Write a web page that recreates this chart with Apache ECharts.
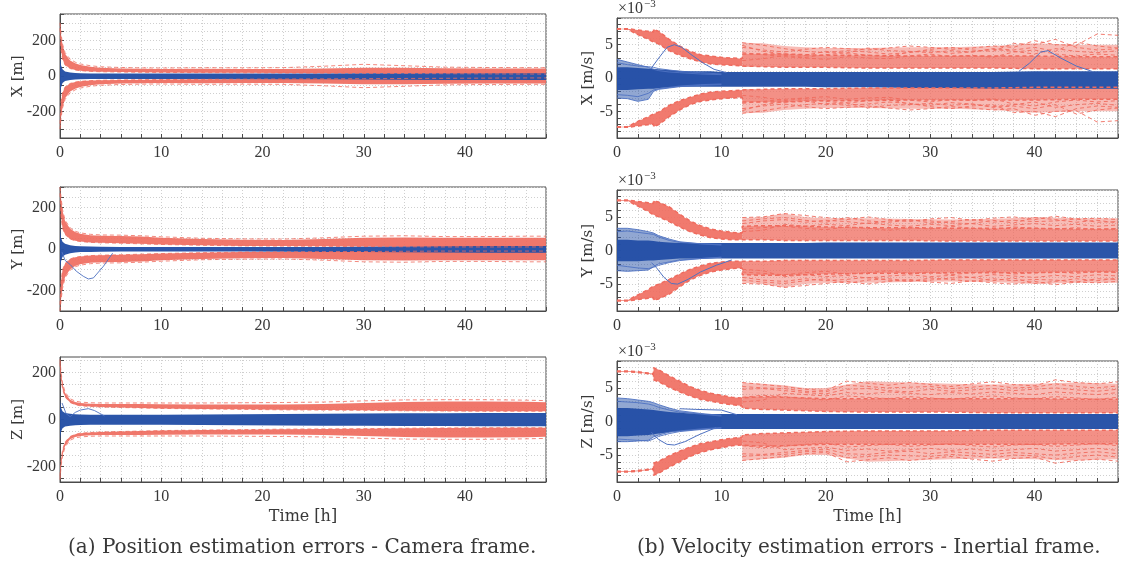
<!DOCTYPE html>
<html>
<head>
<meta charset="utf-8">
<script src="https://cdn.jsdelivr.net/npm/echarts@6/dist/echarts.min.js"></script>
<style>
  html, body { margin: 0; padding: 0; background: #ffffff; }
  #chart { width: 1122px; height: 570px; }
</style>
</head>
<body>
<div id="chart"></div>
<script>
// ---------- Axis ticks and labels ----------
const TIME_GRID = [0, 2, 4, 6, 8, 10, 12, 14, 16, 18, 20, 22, 24, 26, 28, 30, 32, 34, 36, 38, 40, 42, 44, 46, 48];
const TIME_LABELS = [0, 10, 20, 30, 40];
const POS_X_GRID = [-350, -300, -250, -200, -150, -100, -50, 0, 50, 100, 150, 200, 250, 300, 350];
const POS_Y_GRID = [-300, -250, -200, -150, -100, -50, 0, 50, 100, 150, 200, 250, 300];
const POS_Z_GRID = [-250, -200, -150, -100, -50, 0, 50, 100, 150, 200, 250];
const POS_LABELS = [-200, 0, 200];
const VEL_GRID = [-9, -8, -7, -6, -5, -4, -3, -2, -1, 0, 1, 2, 3, 4, 5, 6, 7, 8, 9];
const VEL_LABELS = [-5, 0, 5];

// ---------- Position errors, camera frame [m] ----------
const T_POS = [0, 0.1, 0.25, 0.5, 1, 1.5, 2, 3, 4, 6, 8, 10, 14, 18, 22, 26, 30, 34, 38, 42, 46, 48];

// 3-sigma envelopes (upper side; the lower side is the negative)
const pxSigOut = [300, 235, 175, 125, 88, 72, 62, 52, 47, 43, 41, 40, 41, 40, 40, 43, 47, 46, 44, 42, 42, 42];
const pxSigIn  = [270, 150, 95, 62, 42, 34, 30, 26, 24, 22, 21, 20, 19, 18, 17, 16, 15, 14, 13, 12, 11, 11];
const pxSigHi  = [300, 240, 180, 132, 95, 78, 68, 58, 52, 48, 46, 45, 47, 46, 47, 55, 66, 58, 50, 48, 47, 47];
const pxErrHi  = [110, 60, 38, 26, 20, 17, 15, 14, 14, 14, 14, 14, 14, 14, 14, 14, 15, 16, 16, 16, 16, 16];
const pxErrLo  = [-115, -65, -40, -28, -22, -20, -18, -17, -17, -17, -17, -17, -17, -18, -18, -19, -20, -21, -22, -22, -22, -22];

const pySigOut = [300, 245, 185, 135, 98, 82, 74, 67, 64, 63, 60, 55, 48, 45, 44, 48, 55, 56, 54, 54, 55, 55];
const pySigIn  = [270, 160, 100, 70, 48, 40, 36, 32, 30, 28, 25, 22, 18, 15, 14, 13, 12, 11, 10, 10, 10, 10];
const pySigHi  = [300, 250, 190, 140, 102, 86, 78, 71, 68, 67, 64, 59, 52, 49, 48, 54, 62, 64, 60, 60, 62, 62];
const pyErrHi  = [100, 55, 35, 25, 18, 15, 13, 12, 11, 10, 10, 10, 10, 10, 10, 10, 11, 12, 13, 14, 14, 14];
const pyErrLo  = [-105, -60, -38, -28, -20, -17, -15, -14, -13, -12, -12, -12, -12, -12, -13, -14, -15, -16, -17, -18, -18, -18];

const pzSigOut = [255, 195, 150, 112, 84, 74, 70, 67, 66, 66, 66, 65, 64, 64, 64, 66, 70, 74, 76, 76, 75, 73];
const pzSigIn  = [240, 175, 130, 95, 72, 63, 58, 55, 53, 51, 49, 47, 45, 43, 41, 40, 39, 37, 36, 35, 35, 35];
const pzSigHi  = [255, 200, 155, 116, 88, 78, 74, 71, 70, 70, 70, 70, 70, 71, 72, 74, 79, 83, 84, 84, 82, 80];
const pzErrHi  = [85, 50, 35, 28, 24, 22, 21, 20, 20, 20, 20, 20, 21, 22, 23, 24, 25, 26, 27, 28, 28, 28];
const pzErrLo  = [-88, -52, -37, -30, -26, -24, -23, -22, -22, -22, -22, -22, -23, -24, -25, -26, -27, -28, -28, -29, -29, -29];

// single runs that leave the main error bundle
const pyRunT = [0.2, 0.5, 1.0, 1.6, 2.3, 2.8, 3.3, 4.3, 5.2];
const pyRunV = [-15, -55, -75, -107, -132, -145, -140, -83, -20];
const pzRunT = [0.2, 0.6, 1.0, 1.5, 2.0, 2.8, 3.4, 4.4];
const pzRunV = [70, 25, 12, 30, 40, 46, 38, 15];

// ---------- Velocity errors, inertial frame [1e-3 m/s] ----------
const T_VEL = [0, 1, 2, 3, 3.5, 3.5, 4, 5, 6, 7, 8, 9, 10, 11, 12, 12, 14, 16, 18, 20, 24, 28, 32, 36, 40, 44, 48];
const T_LATE = [12, 14, 16, 18, 20, 24, 28, 32, 36, 40, 44, 48];
const T_RUN = [12, 14, 16, 18, 20, 22, 24, 26, 28, 30, 32, 34, 36, 38, 40, 42, 44, 46, 48];
const T_FAN = [0, 1, 2, 3, 3.5, 4, 5, 6, 8, 10];

const vxSigOut = [7.4, 7.4, 7.2, 7.0, 6.9, 7.3, 7.0, 5.8, 4.8, 4.0, 3.5, 3.3, 3.1, 3.0, 2.9, 3.6, 3.6, 3.6, 3.5, 3.4, 3.4, 3.3, 3.3, 3.3, 3.3, 3.2, 3.2];
const vxSigIn  = [7.3, 7.3, 6.5, 5.8, 5.4, 5.4, 5.1, 4.1, 3.4, 2.9, 2.4, 2.1, 2.0, 1.9, 1.8, 1.7, 1.7, 1.6, 1.6, 1.6, 1.5, 1.5, 1.5, 1.5, 1.4, 1.4, 1.4];
const vxSigMax = [5.3, 5.2, 4.8, 4.6, 4.5, 4.5, 4.6, 4.6, 4.8, 5.2, 5.0, 5.0];
const vxRunA = [5.3, 4.9, 4.4, 4.0, 3.8, 4.1, 3.9, 3.6, 3.8, 4.3, 4.6, 4.2, 4.0, 5.2, 5.0, 5.8, 4.6, 4.2, 4.4];
const vxRunB = [4.6, 4.2, 3.9, 4.3, 4.6, 4.4, 4.2, 4.5, 4.8, 4.6, 4.3, 4.5, 4.8, 4.6, 5.6, 5.0, 4.9, 6.6, 6.4];
const vxRunC = [3.8, 3.5, 3.2, 3.0, 2.8, 3.2, 3.0, 2.9, 3.3, 3.6, 3.2, 3.4, 3.1, 3.9, 4.2, 3.6, 3.3, 3.6, 3.4];
const vxRunD = [2.6, 2.9, 3.4, 3.1, 3.5, 3.8, 3.4, 3.2, 3.9, 4.1, 3.7, 3.9, 4.3, 4.0, 3.6, 4.4, 4.0, 3.8, 4.1];
const vxRunE = [4.9, 4.0, 3.6, 3.4, 4.0, 3.7, 4.5, 4.1, 4.0, 3.8, 4.1, 3.9, 4.4, 4.2, 4.6, 4.0, 5.4, 4.8, 4.5];
const vxErrHi = [1.6, 1.6, 1.5, 1.4, 1.4, 1.4, 1.3, 1.2, 1.1, 1.0, 1.0, 1.0, 0.9, 0.9, 0.9, 0.9, 0.9, 0.9, 0.9, 0.9, 0.9, 0.9, 0.9, 0.9, 1.0, 1.0, 1.0];
const vxErrLo = [-1.8, -1.8, -1.7, -1.6, -1.6, -1.6, -1.5, -1.4, -1.3, -1.3, -1.3, -1.3, -1.3, -1.3, -1.3, -1.3, -1.3, -1.3, -1.3, -1.4, -1.4, -1.5, -1.5, -1.6, -1.6, -1.6, -1.6];
const vxFan1 = [2.8, 2.4, 2.0, 1.6, 1.3, 1.1, 0.9, 0.8, 0.6, 0.5];
const vxFan2 = [2.3, 2.0, 1.8, 1.7, 1.6, 1.4, 1.2, 1.0, 0.8, 0.6];
const vxFan3 = [-2.5, -2.6, -2.8, -2.3, -1.8, -1.6, -1.4, -1.2, -1.0, -0.9];
const vxFan4 = [-3.0, -3.1, -3.5, -3.2, -2.0, -1.7, -1.5, -1.3, -1.1, -1.0];
const vxRun1T = [3.3, 4.0, 4.8, 5.5, 6.2, 7.2, 8.3, 9.3, 10.5];
const vxRun1V = [1.5, 3.0, 4.6, 5.0, 4.6, 3.4, 2.2, 1.3, 0.8];
const vxRun2T = [38.5, 39.5, 40.6, 41.3, 42.5, 44, 45.5];
const vxRun2V = [1.0, 2.2, 3.9, 4.1, 3.0, 1.8, 1.0];

const vySigOut = [7.5, 7.5, 7.3, 7.1, 7.0, 7.4, 7.2, 6.5, 5.4, 4.4, 3.7, 3.2, 2.9, 2.7, 2.6, 3.6, 3.7, 3.7, 3.6, 3.5, 3.4, 3.4, 3.3, 3.3, 3.3, 3.2, 3.2];
const vySigIn  = [7.4, 7.4, 6.6, 5.8, 5.3, 5.3, 5.0, 4.3, 3.5, 2.8, 2.3, 1.9, 1.7, 1.6, 1.6, 1.6, 1.6, 1.5, 1.5, 1.5, 1.5, 1.5, 1.4, 1.4, 1.4, 1.4, 1.4];
const vySigMax = [4.8, 5.0, 5.5, 5.0, 4.8, 4.8, 4.7, 4.6, 4.7, 5.0, 4.8, 4.8];
const vyRunA = [4.9, 5.0, 5.5, 5.2, 4.9, 4.6, 5.0, 4.6, 4.3, 4.7, 4.9, 4.5, 4.8, 5.0, 4.6, 5.1, 4.7, 4.8, 4.6];
const vyRunB = [4.0, 4.4, 4.6, 4.2, 4.5, 4.3, 4.0, 4.4, 4.6, 4.1, 4.3, 4.6, 4.2, 4.5, 4.3, 4.4, 4.7, 4.2, 4.3];
const vyRunC = [3.2, 3.4, 3.6, 3.3, 3.1, 3.5, 3.3, 3.0, 3.4, 3.2, 3.6, 3.3, 3.1, 3.5, 3.3, 3.2, 3.4, 3.1, 3.3];
const vyRunD = [2.8, 3.0, 3.9, 3.6, 3.9, 3.7, 4.1, 3.8, 3.6, 3.9, 3.7, 4.0, 3.6, 3.8, 4.0, 3.7, 3.9, 3.6, 3.8];
const vyRunE = [4.4, 4.7, 4.9, 4.5, 4.2, 4.9, 4.4, 4.2, 4.5, 4.4, 4.1, 4.0, 4.5, 4.1, 4.9, 4.6, 4.2, 4.5, 4.1];
const vyErrHi = [1.6, 1.6, 1.5, 1.5, 1.4, 1.4, 1.3, 1.2, 1.1, 1.1, 1.1, 1.1, 1.1, 1.1, 1.1, 1.1, 1.1, 1.1, 1.1, 1.2, 1.2, 1.2, 1.2, 1.2, 1.2, 1.2, 1.2];
const vyErrLo = [-1.6, -1.6, -1.6, -1.5, -1.5, -1.5, -1.4, -1.3, -1.2, -1.2, -1.2, -1.2, -1.2, -1.2, -1.2, -1.2, -1.2, -1.2, -1.2, -1.2, -1.2, -1.2, -1.2, -1.2, -1.2, -1.2, -1.2];
const vyFan1 = [3.3, 3.3, 3.1, 2.8, 2.6, 2.2, 1.7, 1.3, 1.0, 0.9];
const vyFan2 = [2.8, 2.9, 2.7, 2.5, 2.4, 2.0, 1.5, 1.2, 1.0, 0.8];
const vyFan3 = [-2.2, -2.4, -2.6, -2.7, -2.5, -2.2, -1.8, -1.5, -1.2, -1.0];
const vyFan4 = [-3.0, -3.1, -3.0, -2.9, -2.4, -2.0, -1.7, -1.4, -1.2, -1.0];
const vyRun1T = [3.3, 3.8, 4.5, 5.2, 5.8, 6.8, 8.0, 9.5, 11.0];
const vyRun1V = [-1.8, -2.6, -4.0, -4.9, -5.0, -4.3, -3.2, -2.2, -1.4];

const vzSigOut = [7.5, 7.5, 7.4, 7.2, 7.1, 8.0, 7.7, 6.8, 6.0, 5.2, 4.6, 4.2, 3.9, 3.6, 3.5, 3.7, 3.7, 3.6, 3.5, 3.4, 3.4, 3.4, 3.4, 3.4, 3.4, 3.3, 3.3];
const vzSigIn  = [7.4, 7.4, 7.3, 7.1, 7.0, 6.2, 5.9, 5.1, 4.4, 3.8, 3.3, 3.0, 2.7, 2.5, 2.3, 2.0, 1.8, 1.7, 1.6, 1.5, 1.4, 1.4, 1.4, 1.3, 1.3, 1.3, 1.3];
const vzSigMax = [5.8, 5.6, 5.4, 5.0, 5.0, 6.0, 5.8, 5.6, 5.5, 5.6, 5.8, 5.6];
const vzRunA = [5.8, 5.5, 5.2, 4.8, 4.6, 6.0, 5.7, 5.4, 5.8, 5.5, 5.2, 5.6, 5.9, 5.5, 5.3, 6.2, 5.8, 5.6, 5.9];
const vzRunB = [4.8, 4.9, 4.6, 4.3, 4.1, 4.8, 4.9, 4.6, 4.4, 4.8, 4.5, 4.7, 4.9, 4.6, 4.8, 5.0, 4.7, 4.5, 4.8];
const vzRunC = [3.6, 3.9, 3.7, 3.4, 3.2, 3.8, 3.6, 3.4, 3.7, 3.5, 3.3, 3.6, 3.8, 3.5, 3.4, 3.7, 3.5, 3.3, 3.6];
const vzRunD = [2.9, 3.2, 4.2, 4.0, 3.8, 4.3, 4.1, 4.4, 4.2, 4.0, 4.3, 4.1, 4.4, 4.2, 4.0, 4.4, 4.2, 4.0, 4.3];
const vzRunE = [5.2, 5.0, 4.9, 4.5, 4.4, 5.4, 5.2, 5.0, 5.1, 5.2, 4.9, 5.1, 5.4, 5.0, 5.1, 5.6, 5.2, 5.0, 5.3];
const vzErrHi = [2.0, 2.0, 1.9, 1.8, 1.7, 1.7, 1.6, 1.4, 1.3, 1.2, 1.1, 1.1, 1.1, 1.1, 1.1, 1.1, 1.1, 1.1, 1.1, 1.1, 1.1, 1.1, 1.1, 1.1, 1.1, 1.1, 1.1];
const vzErrLo = [-2.2, -2.2, -2.1, -2.0, -1.9, -1.9, -1.8, -1.6, -1.4, -1.3, -1.2, -1.1, -1.1, -1.1, -1.1, -1.1, -1.1, -1.1, -1.1, -1.1, -1.1, -1.1, -1.1, -1.1, -1.1, -1.1, -1.1];
const vzFan1 = [3.5, 3.4, 3.2, 3.0, 2.8, 2.5, 2.0, 1.6, 1.2, 0.9];
const vzFan2 = [3.0, 2.9, 2.8, 2.6, 2.4, 2.1, 1.7, 1.4, 1.1, 0.8];
const vzFan3 = [-2.6, -2.7, -2.8, -2.9, -2.6, -2.2, -1.8, -1.5, -1.2, -1.0];
const vzFan4 = [-3.0, -3.0, -2.9, -2.8, -2.3, -2.0, -1.6, -1.4, -1.1, -0.9];
const vzRun1T = [3.3, 4.0, 4.8, 5.5, 6.5, 7.8, 9.5];
const vzRun1V = [-1.6, -2.7, -3.4, -3.5, -3.0, -2.0, -0.9];
const vzRun2T = [6.0, 7.5, 10.0, 11.5];
const vzRun2V = [1.9, 1.8, 1.7, 1.0];

// ---------- Styling ----------
const RED = '#EF6B5E';
const BLUE = '#2450A6';
const BLUE_THIN = '#4F72C2';
const AXIS_COL = '#4a4a4a';
const GRID_COL = '#cfcfcf';
const TEXT_COL = '#383838';
const NUM_FONT = 'Liberation Serif';
const TXT_FONT = 'DejaVu Serif';

const LEFT = { left: 60, width: 486 };
const RIGHT = { left: 617, width: 501 };
const ROWS_L = [{ top: 14, height: 124 }, { top: 187, height: 124 }, { top: 357, height: 125 }];
const ROWS_R = [{ top: 18, height: 120 }, { top: 190, height: 121 }, { top: 361, height: 121 }];

const neg = a => a.map(v => -v);
const pairs = (xs, ys) => xs.map((x, i) => [x, ys[i]]);
const SPLIT = 15; // first sample after the re-initialisation at t = 12 h

// filled region between two curves sampled at xs
function band(idx, xs, lo, hi, color, opacity) {
  return {
    type: 'custom', xAxisIndex: idx, yAxisIndex: idx, silent: true, clip: true,
    data: [[xs[0], hi[0]]],
    renderItem: (params, api) => {
      const upper = xs.map((x, i) => api.coord([x, hi[i]]));
      const lower = xs.map((x, i) => api.coord([x, lo[i]])).reverse();
      return { type: 'polygon', shape: { points: upper.concat(lower) }, style: { fill: color, opacity: opacity } };
    }
  };
}

function curve(idx, xs, ys, color, opts) {
  opts = opts || {};
  return {
    type: 'line', xAxisIndex: idx, yAxisIndex: idx, silent: true,
    symbol: 'none', showSymbol: false, clip: true,
    data: pairs(xs, ys),
    lineStyle: { color: color, width: opts.width || 1, type: opts.dash || 'solid', opacity: opts.opacity == null ? 1 : opts.opacity }
  };
}

const DASH = [4, 3];

function posPanel(idx, out, inn, hi, errHi, errLo) {
  return [
    band(idx, T_POS, inn, out, RED, 0.92),
    band(idx, T_POS, neg(out), neg(inn), RED, 0.92),
    curve(idx, T_POS, hi, RED, { dash: DASH, opacity: 0.8 }),
    curve(idx, T_POS, neg(hi), RED, { dash: DASH, opacity: 0.8 }),
    curve(idx, T_POS, inn, RED, { dash: DASH, opacity: 0.8 }),
    curve(idx, T_POS, neg(inn), RED, { dash: DASH, opacity: 0.8 }),
    band(idx, T_POS, errLo, errHi, BLUE, 0.97)
  ];
}

function velPanel(idx, out, inn, max, runs, errHi, errLo, fans) {
  const tEarly = T_VEL.slice(0, SPLIT);
  const outLate = out.slice(SPLIT), inLate = inn.slice(SPLIT);
  const s = [
    band(idx, tEarly, inn.slice(0, SPLIT), out.slice(0, SPLIT), RED, 0.9),
    band(idx, tEarly, neg(out.slice(0, SPLIT)), neg(inn.slice(0, SPLIT)), RED, 0.9),
    band(idx, T_LATE, inLate, outLate, RED, 0.75),
    band(idx, T_LATE, neg(outLate), neg(inLate), RED, 0.75),
    band(idx, T_LATE, outLate, max, RED, 0.45),
    band(idx, T_LATE, neg(max), neg(outLate), RED, 0.45),
    curve(idx, T_VEL, out, RED, { dash: DASH, width: 1.5 }),
    curve(idx, T_VEL, neg(out), RED, { dash: DASH, width: 1.5 }),
    curve(idx, T_VEL, inn, RED, { dash: DASH, width: 1.5 }),
    curve(idx, T_VEL, neg(inn), RED, { dash: DASH, width: 1.5 })
  ];
  runs.forEach(r => {
    s.push(curve(idx, T_RUN, r, RED, { dash: DASH, opacity: 0.9 }));
    s.push(curve(idx, T_RUN, neg(r), RED, { dash: DASH, opacity: 0.9 }));
  });
  s.push(band(idx, T_FAN, fans[3], fans[0], BLUE, 0.5));
  s.push(band(idx, T_VEL, errLo, errHi, BLUE, 0.97));
  fans.forEach(f => s.push(curve(idx, T_FAN, f, BLUE_THIN, { opacity: 0.9 })));
  return s;
}

const grids = [];
const xAxes = [];
const yAxes = [];
const names = ['X', 'Y', 'Z'];
const posGrids = [POS_X_GRID, POS_Y_GRID, POS_Z_GRID];
const posRange = [350, 300, 265];

function xAxisCfg(gi, withName) {
  return {
    gridIndex: gi, type: 'value', min: 0, max: 48,
    axisLine: { show: true, onZero: false, lineStyle: { color: AXIS_COL } },
    axisTick: { show: true, inside: true, length: 4, customValues: TIME_GRID, lineStyle: { color: AXIS_COL } },
    axisLabel: { customValues: TIME_LABELS, color: TEXT_COL, fontFamily: NUM_FONT, fontSize: 16, margin: 7 },
    splitLine: { show: true, lineStyle: { color: GRID_COL, type: [1, 2] } },
    name: withName ? 'Time [h]' : '', nameLocation: 'middle', nameGap: 27, nameMoveOverlap: false,
    nameTextStyle: { color: TEXT_COL, fontFamily: TXT_FONT, fontSize: 16 }
  };
}
function yAxisCfg(gi, lim, ticks, labels, name, gap) {
  return {
    gridIndex: gi, type: 'value', min: -lim, max: lim,
    axisLine: { show: true, onZero: false, lineStyle: { color: AXIS_COL } },
    axisTick: { show: true, inside: true, length: 4, customValues: ticks, lineStyle: { color: AXIS_COL } },
    axisLabel: { customValues: labels, color: TEXT_COL, fontFamily: NUM_FONT, fontSize: 16, margin: 4 },
    splitLine: { show: true, lineStyle: { color: GRID_COL, type: [1, 2] } },
    name: name, nameLocation: 'middle', nameGap: gap, nameRotate: 90, nameMoveOverlap: false,
    nameTextStyle: { color: TEXT_COL, fontFamily: TXT_FONT, fontSize: 15 }
  };
}

for (let r = 0; r < 3; r++) {
  grids.push(Object.assign({ show: true, borderColor: AXIS_COL, borderWidth: 1, containLabel: false }, LEFT, ROWS_L[r]));
  xAxes.push(xAxisCfg(r, r === 2));
  yAxes.push(yAxisCfg(r, posRange[r], posGrids[r], POS_LABELS, names[r] + ' [m]', 34));
}
for (let r = 0; r < 3; r++) {
  grids.push(Object.assign({ show: true, borderColor: AXIS_COL, borderWidth: 1, containLabel: false }, RIGHT, ROWS_R[r]));
  xAxes.push(xAxisCfg(3 + r, r === 2));
  yAxes.push(yAxisCfg(3 + r, 9, VEL_GRID, VEL_LABELS, names[r] + ' [m/s]', 21));
}

const series = [].concat(
  posPanel(0, pxSigOut, pxSigIn, pxSigHi, pxErrHi, pxErrLo),
  posPanel(1, pySigOut, pySigIn, pySigHi, pyErrHi, pyErrLo),
  [curve(1, pyRunT, pyRunV, BLUE_THIN, { opacity: 0.9 })],
  posPanel(2, pzSigOut, pzSigIn, pzSigHi, pzErrHi, pzErrLo),
  [curve(2, pzRunT, pzRunV, BLUE_THIN, { opacity: 0.9 })],
  velPanel(3, vxSigOut, vxSigIn, vxSigMax, [vxRunA, vxRunB, vxRunC, vxRunD, vxRunE], vxErrHi, vxErrLo, [vxFan1, vxFan2, vxFan3, vxFan4]),
  [curve(3, vxRun1T, vxRun1V, BLUE_THIN), curve(3, vxRun2T, vxRun2V, BLUE_THIN)],
  velPanel(4, vySigOut, vySigIn, vySigMax, [vyRunA, vyRunB, vyRunC, vyRunD, vyRunE], vyErrHi, vyErrLo, [vyFan1, vyFan2, vyFan3, vyFan4]),
  [curve(4, vyRun1T, vyRun1V, BLUE_THIN)],
  velPanel(5, vzSigOut, vzSigIn, vzSigMax, [vzRunA, vzRunB, vzRunC, vzRunD, vzRunE], vzErrHi, vzErrLo, [vzFan1, vzFan2, vzFan3, vzFan4]),
  [curve(5, vzRun1T, vzRun1V, BLUE_THIN), curve(5, vzRun2T, vzRun2V, BLUE_THIN)]
);

// exponent markers above the velocity panels and the sub-figure captions
const graphic = [];
ROWS_R.forEach(row => {
  graphic.push({
    type: 'text', left: RIGHT.left + 1, top: row.top - 19,
    style: {
      text: '{a|×10}{b|−3}',
      rich: {
        a: { fontFamily: NUM_FONT, fontSize: 16, fill: TEXT_COL, verticalAlign: 'bottom', lineHeight: 18 },
        b: { fontFamily: NUM_FONT, fontSize: 11, fill: TEXT_COL, verticalAlign: 'top', lineHeight: 18, padding: [0, 0, 6, 1] }
      }
    }
  });
});
graphic.push({
  type: 'text', left: 68, top: 538,
  style: { text: '(a) Position estimation errors - Camera frame.', fontFamily: TXT_FONT, fontSize: 20, fill: TEXT_COL }
});
graphic.push({
  type: 'text', left: 637, top: 538,
  style: { text: '(b) Velocity estimation errors - Inertial frame.', fontFamily: TXT_FONT, fontSize: 20, fill: TEXT_COL }
});

const chart = echarts.init(document.getElementById('chart'), null, { renderer: 'canvas' });
chart.setOption({
  animation: false,
  backgroundColor: '#ffffff',
  grid: grids,
  xAxis: xAxes,
  yAxis: yAxes,
  series: series,
  graphic: graphic
});
</script>
</body>
</html>
